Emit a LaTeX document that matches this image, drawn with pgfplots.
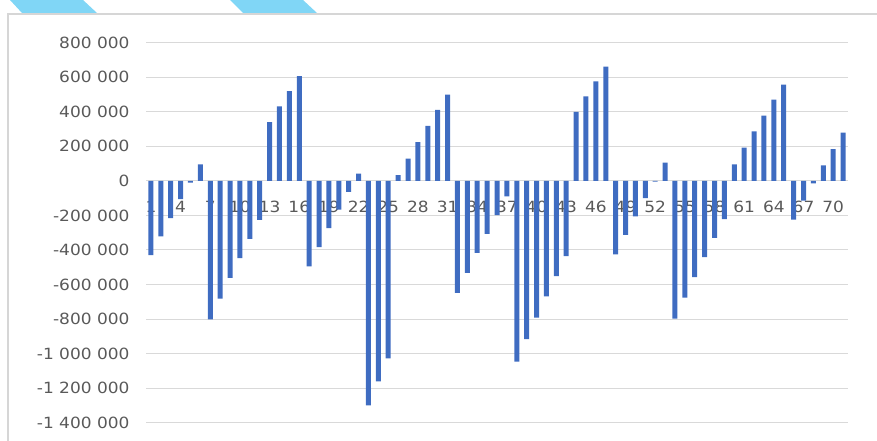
\documentclass[border=0pt]{standalone}
\usepackage{pgfplots}
\pgfplotsset{compat=1.18}
\usepackage{fontspec}
\setmainfont{DejaVu Sans}
\newfontfamily\ticksfont{DejaVu Sans}[FakeStretch=1.1]

\definecolor{barblue}{HTML}{3F6CC1}
\definecolor{gridgray}{HTML}{D9D9D9}
\definecolor{framegray}{HTML}{D6D6D6}
\definecolor{labelgray}{HTML}{595959}
\definecolor{ribbon}{HTML}{80D6F6}

% period number / value
\pgfplotstableread{
n v
1 -430000
2 -322000
3 -215000
4 -106000
5 -10000
6 96000
7 -802000
8 -681000
9 -562000
10 -447000
11 -336000
12 -226000
13 340000
14 432000
15 520000
16 607000
17 -495000
18 -384000
19 -274000
20 -167000
21 -63000
22 42000
23 -1299000
24 -1161000
25 -1027000
26 33000
27 129000
28 225000
29 319000
30 411000
31 499000
32 -649000
33 -532000
34 -417000
35 -307000
36 -198000
37 -90000
38 -1046000
39 -916000
40 -791000
41 -668000
42 -551000
43 -436000
44 399000
45 489000
46 576000
47 662000
48 -426000
49 -313000
50 -205000
51 -100000
52 -4000
53 106000
54 -797000
55 -676000
56 -557000
57 -441000
58 -330000
59 -221000
60 96000
61 192000
62 286000
63 378000
64 470000
65 557000
66 -225000
67 -115000
68 -15000
69 90000
70 184000
71 280000
}\series

\begin{document}
\begin{tikzpicture}
% decorative ribbons along the top edge
\fill[ribbon] (10bp,441bp) -- (83bp,441bp) -- (97bp,428bp) -- (22bp,428bp) -- cycle;
\fill[ribbon] (230bp,441bp) -- (303bp,441bp) -- (317bp,428bp) -- (243bp,428bp) -- cycle;
% chart frame
\draw[framegray, line width=1.3bp] (8bp,-5bp) -- (8bp,427bp) -- (885bp,427bp);

\begin{axis}[
  at={(146bp,18.3bp)}, anchor=south west,
  scale only axis, width=702bp, height=380bp,
  xmin=0.5, xmax=71.5,
  ymin=-1400000, ymax=800000,
  axis x line*=middle, axis y line*=left,
  axis line style={draw=none},
  major tick length=0pt,
  scaled y ticks=false,
  ymajorgrids, grid style={gridgray, line width=1bp},
  ytick={-1400000,-1200000,-1000000,-800000,-600000,-400000,-200000,0,200000,400000,600000,800000},
  yticklabels={-1 400 000,-1 200 000,-1 000 000,-800 000,-600 000,-400 000,-200 000,0,200 000,400 000,600 000,800 000},
  xtick={1,4,...,70},
  /pgf/number format/assume math mode=true,
  tick label style={font=\ticksfont\fontsize{15.5}{18}\selectfont, text=labelgray},
  yticklabel style={anchor=east, xshift=-13bp},
  xticklabel style={anchor=north, yshift=-17bp},
  ybar, bar width=5bp,
  clip=false,
]
\addplot[fill=barblue, draw=none] table[x=n, y=v] {\series};
\end{axis}
\pgfresetboundingbox
\useasboundingbox (0,0) rectangle (877bp,441bp);
\end{tikzpicture}
\end{document}
